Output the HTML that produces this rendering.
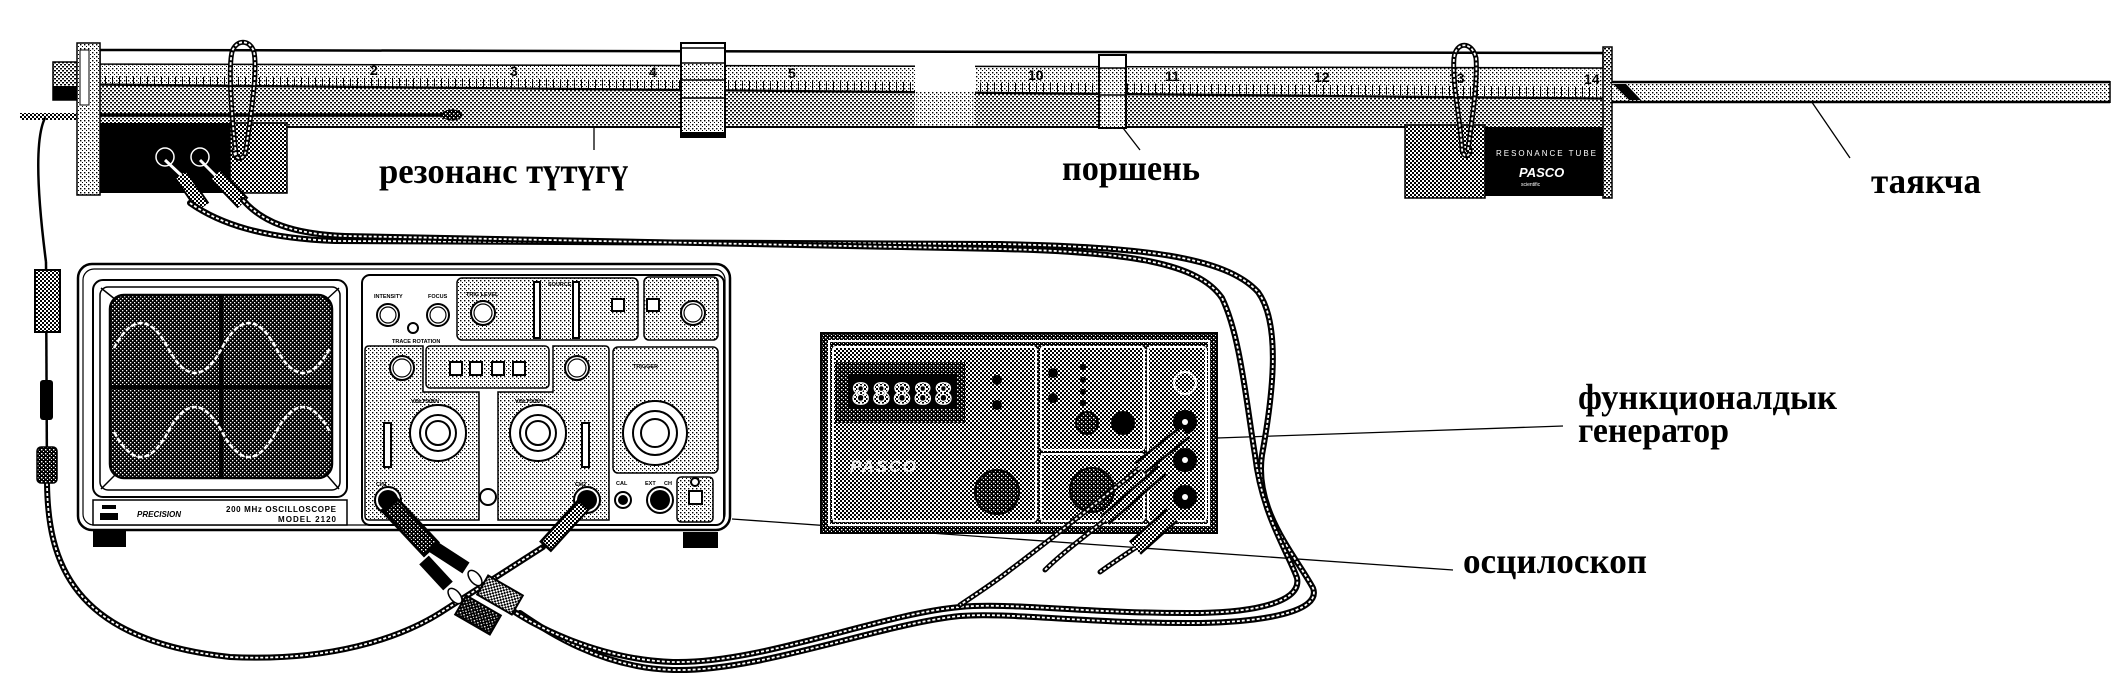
<!DOCTYPE html>
<html><head><meta charset="utf-8">
<style>
html,body{margin:0;padding:0;background:#fff;width:2124px;height:682px;overflow:hidden}
svg{display:block}
.cb{fill:none;stroke:#000;stroke-width:6;stroke-linecap:round;stroke-linejoin:round}
.cw{fill:none;stroke:#fff;stroke-width:1.8;stroke-dasharray:3 2}
.lbl{font-family:"Liberation Serif",serif;font-weight:bold;font-size:36px;fill:#000}
.sm{font-family:"Liberation Sans",sans-serif;font-weight:bold;fill:#000}
.ln{stroke:#000;stroke-width:1.3;fill:none}
.k{fill:#fff;stroke:#000;stroke-width:2}
.k1{fill:none;stroke:#000;stroke-width:1.2}
.pn{fill:url(#pL);stroke:#000;stroke-width:1.5}
</style></head><body>
<svg width="2124" height="682" viewBox="0 0 2124 682" xmlns="http://www.w3.org/2000/svg">
<defs>
 <pattern id="pL" width="4" height="4" patternUnits="userSpaceOnUse"><rect width="4" height="4" fill="#fff"/><rect x="0" y="0" width="1.4" height="1.4" fill="#000"/><rect x="2" y="2" width="1" height="1" fill="#000"/></pattern>
 <pattern id="pM" width="4" height="4" patternUnits="userSpaceOnUse"><rect width="4" height="4" fill="#fff"/><rect x="0" y="0" width="2" height="1.5" fill="#000"/><rect x="2" y="2" width="2" height="1.5" fill="#000"/></pattern>
 <pattern id="pC" width="4" height="4" patternUnits="userSpaceOnUse"><rect width="4" height="4" fill="#fff"/><rect x="0" y="0" width="2" height="2" fill="#000"/><rect x="2" y="2" width="2" height="2" fill="#000"/></pattern>
 <pattern id="pD" width="4" height="4" patternUnits="userSpaceOnUse"><rect width="4" height="4" fill="#000"/><rect x="1" y="1" width="1.4" height="1.4" fill="#fff"/><rect x="3" y="3" width="1" height="1" fill="#fff"/></pattern>
 <pattern id="pS" width="4" height="4" patternUnits="userSpaceOnUse"><rect width="4" height="4" fill="#000"/><rect x="0" y="0" width="1.3" height="1.3" fill="#fff"/><rect x="2" y="2" width="1.3" height="1.3" fill="#fff"/></pattern>
 <pattern id="pT" width="7" height="40" patternUnits="userSpaceOnUse"><rect x="0" y="0" width="1" height="40" fill="#000"/></pattern>

 <path id="cA" d="M190,203 C220,224 262,238 335,241 L1000,244 C1140,247 1225,256 1258,292 C1282,325 1272,400 1262,455 C1254,510 1295,555 1313,588 C1322,612 1262,622 1200,623 C1090,624 1010,612 960,616 C880,624 760,672 673,670 C600,668 545,630 520,613"/>
 <path id="cB" d="M243,200 C262,222 292,234 345,236 L1000,249 C1130,252 1198,263 1222,298 C1240,335 1246,400 1255,455 C1262,515 1288,552 1297,578 C1302,602 1255,612 1200,613 C1090,614 1010,602 960,607 C880,614 760,664 673,662 C600,660 530,625 505,605"/>
 <path id="cP" d="M45,118 C34,140 38,200 46,262"/>
 <path id="cQ" d="M47,483 C48,560 70,640 230,657 C330,662 400,638 440,613 L543,547"/>
 <path id="cG1" d="M1140,468 C1100,500 1050,540 1010,570 C995,582 975,595 960,605"/>
 <path id="cG2" d="M1105,520 C1080,540 1060,555 1045,570"/>
 <path id="cG3" d="M1135,548 C1120,558 1108,566 1100,572"/>
</defs>

<!-- label lines (behind) -->
<line class="ln" x1="594" y1="128" x2="594" y2="150"/>
<line class="ln" x1="1123" y1="128" x2="1140" y2="150"/>
<line class="ln" x1="1805" y1="92" x2="1850" y2="158"/>
<line class="ln" x1="1563" y1="426" x2="1217" y2="438"/>
<line class="ln" x1="1453" y1="570" x2="732" y2="519"/>

<!-- ===== Resonance tube ===== -->
<polygon points="100,84 1603,98 1603,127 100,127" fill="url(#pM)"/>
<line x1="287" y1="127" x2="1405" y2="127" stroke="#000" stroke-width="2"/>
<polygon points="100,64 1603,68 1603,98 100,84" fill="url(#pL)" stroke="#000" stroke-width="1.2"/>
<polygon points="100,76 1603,87 1603,97 100,84" fill="url(#pT)"/>
<line x1="100" y1="85" x2="1603" y2="99" stroke="#000" stroke-width="1.5"/>
<polygon points="100,50 1603,53 1603,68 100,64" fill="#fff" stroke="#000" stroke-width="1.5"/>
<line x1="100" y1="50" x2="1603" y2="53" stroke="#000" stroke-width="2.5"/>
<g class="sm" font-size="14">
 <text x="370" y="75">2</text><text x="510" y="76">3</text><text x="649" y="77">4</text><text x="788" y="78">5</text>
 <text x="1028" y="80">10</text><text x="1165" y="81">11</text><text x="1314" y="82">12</text><text x="1449" y="83">13</text><text x="1584" y="84">14</text>
</g>
<!-- window break -->
<rect x="915" y="63" width="60" height="28" fill="#fff"/>
<rect x="915" y="91" width="60" height="35" fill="url(#pL)"/>
<!-- left stub + flange -->
<rect x="53" y="62" width="24" height="38" fill="url(#pM)" stroke="#000" stroke-width="1.5"/>
<rect x="53" y="86" width="24" height="14" fill="#000"/>
<rect x="20" y="113" width="57" height="7" fill="url(#pC)"/>
<rect x="77" y="43" width="23" height="152" fill="url(#pL)" stroke="#000" stroke-width="1.5"/>
<rect x="80" y="50" width="9" height="55" fill="#fff" stroke="#000" stroke-width="1"/>
<!-- mic rod -->
<line x1="100" y1="115" x2="442" y2="115" stroke="#000" stroke-width="3.5"/>
<ellipse cx="452" cy="115" rx="10" ry="5" fill="url(#pD)" stroke="#000"/>
<!-- speaker box -->
<rect x="100" y="123" width="130" height="70" fill="#000"/>
<rect x="230" y="123" width="57" height="70" fill="url(#pC)" stroke="#000" stroke-width="1.5"/>
<circle cx="165" cy="157" r="9" fill="none" stroke="#fff" stroke-width="1.5"/>
<circle cx="200" cy="157" r="9" fill="none" stroke="#fff" stroke-width="1.5"/>
<line x1="165" y1="160" x2="182" y2="176" stroke="#fff" stroke-width="3"/>
<line x1="200" y1="160" x2="216" y2="176" stroke="#fff" stroke-width="3"/>
<line x1="181" y1="175" x2="203" y2="207" stroke="#000" stroke-width="15"/>
<line x1="181" y1="175" x2="203" y2="207" stroke="url(#pC)" stroke-width="11"/>
<line x1="216" y1="175" x2="243" y2="203" stroke="#000" stroke-width="15"/>
<line x1="216" y1="175" x2="243" y2="203" stroke="url(#pC)" stroke-width="11"/>
<!-- clamp -->
<rect x="681" y="43" width="44" height="94" fill="url(#pL)" stroke="#000" stroke-width="2"/>
<rect x="682" y="44" width="42" height="19" fill="#fff"/>
<line x1="681" y1="48" x2="725" y2="48" stroke="#000" stroke-width="1.5"/>
<line x1="681" y1="63" x2="725" y2="63" stroke="#000" stroke-width="1.5"/>
<line x1="681" y1="80" x2="725" y2="80" stroke="#000" stroke-width="1.5"/>
<line x1="681" y1="98" x2="725" y2="98" stroke="#000" stroke-width="1.5"/>
<rect x="681" y="132" width="44" height="5" fill="#000"/>
<!-- piston marker -->
<rect x="1099" y="55" width="27" height="73" fill="url(#pL)" stroke="#000" stroke-width="2"/>
<rect x="1100" y="56" width="25" height="12" fill="#fff"/>
<line x1="1099" y1="68" x2="1126" y2="68" stroke="#000" stroke-width="1.5"/>
<line x1="1099" y1="95" x2="1126" y2="95" stroke="#000" stroke-width="1.5"/>
<!-- right block -->
<rect x="1405" y="125" width="80" height="73" fill="url(#pC)" stroke="#000" stroke-width="1.5"/>
<rect x="1485" y="127" width="123" height="69" fill="#000"/>
<text x="1496" y="156" font-family="Liberation Sans,sans-serif" font-size="8" fill="#fff" textLength="100">RESONANCE TUBE</text>
<text x="1519" y="177" font-family="Liberation Sans,sans-serif" font-weight="bold" font-style="italic" font-size="13" fill="#fff">PASCO</text>
<text x="1521" y="186" font-family="Liberation Sans,sans-serif" font-size="5" fill="#fff">scientific</text>
<rect x="1603" y="47" width="9" height="151" fill="url(#pM)" stroke="#000" stroke-width="1.5"/>
<!-- rod -->
<rect x="1612" y="82" width="498" height="20" fill="url(#pL)"/>
<line x1="1612" y1="82" x2="2110" y2="82" stroke="#000" stroke-width="2.5"/>
<line x1="1612" y1="102" x2="2110" y2="102" stroke="#000" stroke-width="2.5"/>
<line x1="2110" y1="81" x2="2110" y2="103" stroke="#000" stroke-width="1.5"/>
<polygon points="1613,84 1626,84 1641,100 1629,100" fill="#000"/>
<!-- hooks -->
<path d="M236,155 C232,120 228,70 232,52 C236,39 250,39 254,52 C258,72 250,120 246,150 C244,162 234,160 234,150" class="cb" style="stroke-width:5"/>
<path d="M236,155 C232,120 228,70 232,52 C236,39 250,39 254,52 C258,72 250,120 246,150 C244,162 234,160 234,150" class="cw"/>
<path d="M1468,150 C1472,120 1478,80 1476,58 C1472,41 1456,41 1454,58 C1452,80 1460,120 1462,148 C1462,158 1470,158 1470,150" class="cb" style="stroke-width:5"/>
<path d="M1468,150 C1472,120 1478,80 1476,58 C1472,41 1456,41 1454,58 C1452,80 1460,120 1462,148 C1462,158 1470,158 1470,150" class="cw"/>

<!-- ===== Oscilloscope ===== -->
<rect x="78" y="264" width="652" height="266" rx="14" fill="#fff" stroke="#000" stroke-width="2.5"/>
<rect x="83" y="269" width="642" height="256" rx="11" fill="none" stroke="#000" stroke-width="1.2"/>
<rect x="93" y="280" width="254" height="217" rx="10" fill="#fff" stroke="#000" stroke-width="2"/>
<rect x="100" y="287" width="240" height="203" rx="8" fill="none" stroke="#000" stroke-width="1.5"/>
<g stroke="#000" stroke-width="1.5">
 <line x1="101" y1="288" x2="116" y2="300"/><line x1="339" y1="288" x2="326" y2="300"/>
 <line x1="101" y1="489" x2="116" y2="474"/><line x1="339" y1="489" x2="326" y2="474"/>
</g>
<rect x="110" y="295" width="222" height="183" rx="14" fill="url(#pS)" stroke="#000" stroke-width="2.5"/>
<line x1="221" y1="296" x2="221" y2="477" stroke="#000" stroke-width="4"/>
<line x1="111" y1="387" x2="331" y2="387" stroke="#000" stroke-width="4"/>
<path d="M114,348 Q141,298 168,348 T222,348 T276,348 T330,348" fill="none" stroke="#fff" stroke-width="2.5" stroke-dasharray="5 2"/>
<path d="M114,432 Q141,482 168,432 T222,432 T276,432 T330,432" fill="none" stroke="#fff" stroke-width="2.5" stroke-dasharray="5 2"/>
<rect x="93" y="500" width="254" height="25" fill="#fff" stroke="#000" stroke-width="1.5"/>
<rect x="102" y="505" width="14" height="4" fill="#000"/><rect x="100" y="513" width="18" height="7" fill="#000"/>
<text class="sm" x="137" y="517" font-size="8" font-style="italic">PRECISION</text>
<text class="sm" x="226" y="512" font-size="8" textLength="110">200 MHz OSCILLOSCOPE</text>
<text class="sm" x="278" y="522" font-size="8" textLength="58">MODEL 2120</text>
<!-- control panel -->
<rect x="362" y="275" width="362" height="250" rx="8" fill="#fff" stroke="#000" stroke-width="2"/>
<rect x="457" y="278" width="181" height="62" rx="5" class="pn"/>
<rect x="644" y="277" width="74" height="63" rx="5" class="pn"/>
<rect x="613" y="347" width="105" height="126" rx="5" class="pn"/>
<path d="M369,346 H423 V392 H479 V520 H369 Q365,520 365,516 V350 Q365,346 369,346 Z" class="pn"/>
<rect x="426" y="346" width="123" height="42" rx="4" class="pn"/>
<path d="M553,346 H605 Q609,346 609,350 V520 H498 V392 H553 Z" class="pn"/>
<rect x="677" y="477" width="36" height="45" rx="4" class="pn"/>
<g class="sm" font-size="5.5">
 <text x="374" y="298">INTENSITY</text><text x="428" y="298">FOCUS</text><text x="466" y="296">TRIG LEVEL</text>
 <text x="392" y="343">TRACE ROTATION</text><text x="411" y="403">VOLTS/DIV</text><text x="515" y="403">VOLTS/DIV</text>
 <text x="633" y="368">TRIGGER</text><text x="616" y="485">CAL</text><text x="645" y="485">EXT</text><text x="664" y="485">CH</text>
 <text x="376" y="486">CH1</text><text x="575" y="486">CH2</text><text x="548" y="286">SOURCE</text>
</g>
<circle cx="388" cy="315" r="11" class="k"/><circle cx="388" cy="315" r="8" class="k1"/>
<circle cx="438" cy="315" r="11" class="k"/><circle cx="438" cy="315" r="8" class="k1"/>
<circle cx="413" cy="328" r="5" class="k"/>
<circle cx="483" cy="313" r="12" class="k"/><circle cx="483" cy="313" r="9" class="k1"/>
<rect x="534" y="282" width="6" height="56" class="k" stroke-width="1.2"/>
<rect x="573" y="282" width="6" height="56" class="k" stroke-width="1.2"/>
<rect x="612" y="299" width="12" height="12" class="k"/>
<rect x="647" y="299" width="12" height="12" class="k"/>
<circle cx="693" cy="313" r="12" class="k"/><circle cx="693" cy="313" r="9" class="k1"/>
<circle cx="402" cy="368" r="12" class="k"/><circle cx="402" cy="368" r="9" class="k1"/>
<circle cx="577" cy="368" r="12" class="k"/><circle cx="577" cy="368" r="9" class="k1"/>
<rect x="450" y="362" width="12" height="13" class="k"/><rect x="470" y="362" width="12" height="13" class="k"/>
<rect x="492" y="362" width="12" height="13" class="k"/><rect x="513" y="362" width="12" height="13" class="k"/>
<circle cx="438" cy="433" r="28" class="k"/><circle cx="438" cy="433" r="18" class="k"/><circle cx="438" cy="433" r="12" class="k"/>
<circle cx="538" cy="433" r="28" class="k"/><circle cx="538" cy="433" r="18" class="k"/><circle cx="538" cy="433" r="12" class="k"/>
<circle cx="655" cy="433" r="32" class="k"/><circle cx="655" cy="433" r="22" class="k"/><circle cx="655" cy="433" r="14" class="k"/>
<rect x="384" y="423" width="7" height="44" class="k" stroke-width="1.2"/>
<rect x="582" y="423" width="7" height="44" class="k" stroke-width="1.2"/>
<circle cx="388" cy="500" r="13" class="k"/><circle cx="388" cy="500" r="10" fill="#000"/>
<circle cx="587" cy="500" r="13" class="k"/><circle cx="587" cy="500" r="10" fill="#000"/>
<circle cx="660" cy="500" r="13" class="k"/><circle cx="660" cy="500" r="10" fill="#000"/>
<circle cx="623" cy="500" r="8" class="k"/><circle cx="623" cy="500" r="5" fill="#000"/>
<circle cx="488" cy="497" r="8" class="k"/>
<circle cx="695" cy="482" r="4" class="k" stroke-width="1.2"/>
<rect x="689" y="491" width="13" height="13" class="k"/>
<rect x="93" y="531" width="33" height="16" fill="#000"/>
<rect x="683" y="532" width="35" height="16" fill="#000"/>

<!-- ===== Function generator ===== -->
<rect x="821" y="333" width="396" height="200" fill="url(#pD)" stroke="#000" stroke-width="2"/>
<rect x="829" y="341" width="380" height="184" fill="none" stroke="#fff" stroke-width="2"/>
<rect x="833" y="347" width="203" height="174" rx="3" fill="url(#pC)" stroke="#fff" stroke-width="2"/>
<rect x="1041" y="347" width="103" height="103" rx="3" fill="url(#pC)" stroke="#fff" stroke-width="2"/>
<rect x="1041" y="454" width="103" height="67" rx="3" fill="url(#pC)" stroke="#fff" stroke-width="2"/>
<rect x="1148" y="347" width="58" height="174" rx="3" fill="url(#pC)" stroke="#fff" stroke-width="2"/>
<rect x="835" y="362" width="130" height="61" fill="url(#pD)"/>
<rect x="849" y="374" width="108" height="34" fill="#000"/>
<text x="852" y="404" font-family="Liberation Sans,sans-serif" font-weight="bold" font-size="31" fill="url(#pC)" stroke="#fff" stroke-width="1.2" textLength="100">88888</text>
<text x="850" y="472" font-family="Liberation Sans,sans-serif" font-weight="bold" font-style="italic" font-size="17" fill="#fff" opacity="0.85" textLength="66">PASCO</text>
<circle cx="997" cy="380" r="5" fill="#000"/><circle cx="997" cy="405" r="5" fill="#000"/>
<circle cx="1053" cy="373" r="5" fill="#000"/><circle cx="1053" cy="398" r="5" fill="#000"/>
<circle cx="1083" cy="367" r="3" fill="#000"/><circle cx="1083" cy="380" r="3" fill="#000"/>
<circle cx="1083" cy="392" r="3" fill="#000"/><circle cx="1083" cy="403" r="3" fill="#000"/>
<circle cx="1087" cy="423" r="11" fill="url(#pD)" stroke="#000" stroke-width="2"/>
<circle cx="1123" cy="423" r="12" fill="#000"/>
<circle cx="997" cy="492" r="22" fill="url(#pD)" stroke="#000" stroke-width="2"/>
<circle cx="1092" cy="490" r="22" fill="url(#pD)" stroke="#000" stroke-width="2"/>
<circle cx="1185" cy="383" r="11" fill="url(#pC)" stroke="#fff" stroke-width="2"/>
<circle cx="1185" cy="422" r="12" fill="#000"/><circle cx="1185" cy="422" r="3" fill="#fff"/>
<circle cx="1185" cy="460" r="12" fill="#000"/><circle cx="1185" cy="460" r="3" fill="#fff"/>
<circle cx="1185" cy="497" r="12" fill="#000"/><circle cx="1185" cy="497" r="3" fill="#fff"/>

<!-- ===== Cables ===== -->
<use href="#cA" class="cb"/><use href="#cA" class="cw"/>
<use href="#cB" class="cb"/><use href="#cB" class="cw"/>
<use href="#cP" fill="none" stroke="#000" stroke-width="2.5"/>
<line x1="46" y1="262" x2="47" y2="483" stroke="#000" stroke-width="2.5"/>
<use href="#cQ" class="cb"/><use href="#cQ" class="cw"/>
<use href="#cG1" class="cb" style="stroke-width:5"/><use href="#cG1" class="cw"/>
<use href="#cG2" class="cb" style="stroke-width:5"/><use href="#cG2" class="cw"/>
<use href="#cG3" class="cb" style="stroke-width:5"/><use href="#cG3" class="cw"/>
<!-- probe on left cable -->
<rect x="35" y="270" width="25" height="62" fill="url(#pC)" stroke="#000" stroke-width="2"/>
<rect x="40" y="380" width="13" height="40" rx="3" fill="#000"/>
<rect x="37" y="447" width="20" height="36" rx="4" fill="url(#pD)" stroke="#000" stroke-width="1.5"/>
<!-- generator plugs -->
<line x1="1185" y1="432" x2="1140" y2="468" stroke="#000" stroke-width="16"/>
<line x1="1185" y1="432" x2="1140" y2="468" stroke="url(#pC)" stroke-width="11"/>
<line x1="1162" y1="470" x2="1105" y2="520" stroke="#000" stroke-width="13"/>
<line x1="1162" y1="470" x2="1105" y2="520" stroke="url(#pC)" stroke-width="8"/>
<line x1="1172" y1="515" x2="1135" y2="548" stroke="#000" stroke-width="18"/>
<line x1="1172" y1="515" x2="1135" y2="548" stroke="url(#pC)" stroke-width="13"/>
<!-- CH1 BNC plug -->
<line x1="388" y1="503" x2="432" y2="550" stroke="#000" stroke-width="22"/>
<line x1="392" y1="507" x2="430" y2="548" stroke="url(#pD)" stroke-width="16"/>
<line x1="432" y1="546" x2="466" y2="568" stroke="#000" stroke-width="13"/>
<line x1="424" y1="560" x2="448" y2="586" stroke="#000" stroke-width="13"/>
<!-- CH2 BNC plug -->
<line x1="585" y1="503" x2="545" y2="547" stroke="#000" stroke-width="16"/>
<line x1="583" y1="506" x2="547" y2="545" stroke="url(#pC)" stroke-width="11"/>
<!-- banana plugs -->
<ellipse cx="475" cy="578" rx="5" ry="9" transform="rotate(-40 475 578)" fill="#fff" stroke="#000" stroke-width="1.5"/>
<ellipse cx="455" cy="596" rx="5" ry="9" transform="rotate(-40 455 596)" fill="#fff" stroke="#000" stroke-width="1.5"/>
<rect x="480" y="584" width="40" height="22" transform="rotate(30 500 595)" fill="url(#pC)" stroke="#000" stroke-width="2"/>
<rect x="458" y="604" width="40" height="22" transform="rotate(30 478 615)" fill="url(#pD)" stroke="#000" stroke-width="2"/>

<!-- ===== Labels ===== -->
<text class="lbl" x="379" y="183" textLength="249" lengthAdjust="spacingAndGlyphs">резонанс түтүгү</text>
<text class="lbl" x="1062" y="180" textLength="138" lengthAdjust="spacingAndGlyphs">поршень</text>
<text class="lbl" x="1871" y="193" textLength="110" lengthAdjust="spacingAndGlyphs">таякча</text>
<text class="lbl" x="1578" y="409" textLength="259" lengthAdjust="spacingAndGlyphs">функционалдык</text>
<text class="lbl" x="1578" y="442" textLength="151" lengthAdjust="spacingAndGlyphs">генератор</text>
<text class="lbl" x="1463" y="573" textLength="184" lengthAdjust="spacingAndGlyphs">осцилоскоп</text>
</svg>
</body></html>
